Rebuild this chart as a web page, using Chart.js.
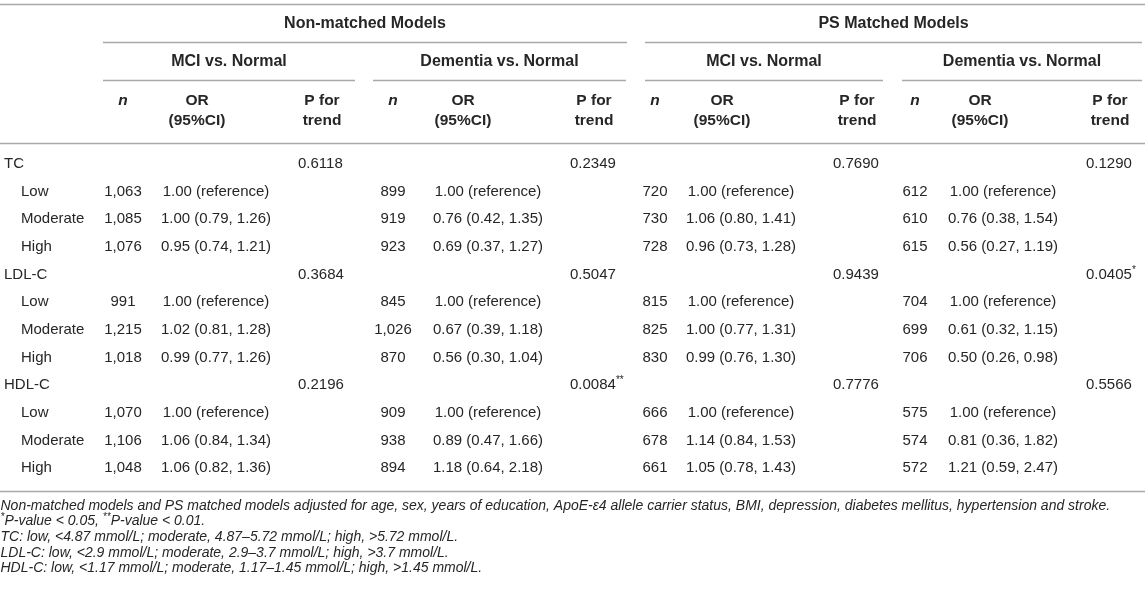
<!DOCTYPE html>
<html>
<head>
<meta charset="utf-8">
<script src="https://cdn.jsdelivr.net/npm/chart.js@4.4.0/dist/chart.umd.min.js"></script>
<style>
html,body{margin:0;padding:0;background:#ffffff;}
#wrap{width:1145px;height:599px;position:relative;}
</style>
</head>
<body>
<div id="wrap"><canvas id="c"></canvas></div>
<script>
// ---------- DATA ----------
const groups = ['Non-matched Models', 'PS Matched Models'];
const comparisons = ['MCI vs. Normal', 'Dementia vs. Normal', 'MCI vs. Normal', 'Dementia vs. Normal'];
const colHeadN = 'n';
const colHeadOR = ['OR', '(95%CI)'];
const colHeadP = ['P for', 'trend'];
const lipids = ['TC', 'LDL-C', 'HDL-C'];
const levels = ['Low', 'Moderate', 'High'];

// values listed lipid by lipid (TC Low/Moderate/High, LDL-C ..., HDL-C ...)
const nmMciN  = ['1,063', '1,085', '1,076', '991', '1,215', '1,018', '1,070', '1,106', '1,048'];
const nmMciOR = ['1.00 (reference)', '1.00 (0.79, 1.26)', '0.95 (0.74, 1.21)',
                 '1.00 (reference)', '1.02 (0.81, 1.28)', '0.99 (0.77, 1.26)',
                 '1.00 (reference)', '1.06 (0.84, 1.34)', '1.06 (0.82, 1.36)'];
const nmMciP  = ['0.6118', '0.3684', '0.2196'];

const nmDemN  = ['899', '919', '923', '845', '1,026', '870', '909', '938', '894'];
const nmDemOR = ['1.00 (reference)', '0.76 (0.42, 1.35)', '0.69 (0.37, 1.27)',
                 '1.00 (reference)', '0.67 (0.39, 1.18)', '0.56 (0.30, 1.04)',
                 '1.00 (reference)', '0.89 (0.47, 1.66)', '1.18 (0.64, 2.18)'];
const nmDemP  = ['0.2349', '0.5047', '0.0084**'];

const psMciN  = ['720', '730', '728', '815', '825', '830', '666', '678', '661'];
const psMciOR = ['1.00 (reference)', '1.06 (0.80, 1.41)', '0.96 (0.73, 1.28)',
                 '1.00 (reference)', '1.00 (0.77, 1.31)', '0.99 (0.76, 1.30)',
                 '1.00 (reference)', '1.14 (0.84, 1.53)', '1.05 (0.78, 1.43)'];
const psMciP  = ['0.7690', '0.9439', '0.7776'];

const psDemN  = ['612', '610', '615', '704', '699', '706', '575', '574', '572'];
const psDemOR = ['1.00 (reference)', '0.76 (0.38, 1.54)', '0.56 (0.27, 1.19)',
                 '1.00 (reference)', '0.61 (0.32, 1.15)', '0.50 (0.26, 0.98)',
                 '1.00 (reference)', '0.81 (0.36, 1.82)', '1.21 (0.59, 2.47)'];
const psDemP  = ['0.1290', '0.0405*', '0.5566'];

const footnotes = [
  'Non-matched models and PS matched models adjusted for age, sex, years of education, ApoE-\u03b54 allele carrier status, BMI, depression, diabetes mellitus, hypertension and stroke.',
  '*P-value < 0.05, **P-value < 0.01.',
  'TC: low, <4.87 mmol/L; moderate, 4.87\u20135.72 mmol/L; high, >5.72 mmol/L.',
  'LDL-C: low, <2.9 mmol/L; moderate, 2.9\u20133.7 mmol/L; high, >3.7 mmol/L.',
  'HDL-C: low, <1.17 mmol/L; moderate, 1.17\u20131.45 mmol/L; high, >1.45 mmol/L.'
];

// ---------- LAYOUT / STYLE ----------
const W = 1145, H = 599;
const FONT = "'Liberation Sans', Arial, Helvetica, sans-serif";
const TEXT = '#262626';
const RULE = '#a9a9a9';
const L = {
  topLine: 4,
  groupY: 24, groupLine: 42, groupSpans: [[103, 627], [645, 1142]],
  compY: 62, compLine: 80, compSpans: [[103, 355], [373, 626], [645, 883], [902, 1142]],
  head1: 101, head2: 121, headLine: 143,
  bottomLine: 491,
  footY: 506, footStep: 15.6,
  labelX: 4, indentX: 21,
  cols: [
    {n: 123, or: 216, orHead: 197, p: 322},
    {n: 393, or: 488, orHead: 463, p: 594},
    {n: 655, or: 741, orHead: 722, p: 857},
    {n: 915, or: 1003, orHead: 980, p: 1110}
  ],
  pOffset: -24
};

// ---------- BUILD DATASETS ----------
const panels = [
  {n: nmMciN, or: nmMciOR, p: nmMciP},
  {n: nmDemN, or: nmDemOR, p: nmDemP},
  {n: psMciN, or: psMciOR, p: psMciP},
  {n: psDemN, or: psDemOR, p: psDemP}
];
const datasets = [];
function addSet(points, align) {
  datasets.push({
    data: points.map(p => ({x: p.x, y: p.y})),
    texts: points.map(p => p.t),
    align: align,
    pointRadius: 0, pointHoverRadius: 0, showLine: false
  });
}
// row labels
const labelPts = [];
lipids.forEach((lp, li) => {
  labelPts.push({x: L.labelX, y: li * 4, t: lp});
  levels.forEach((lv, vi) => labelPts.push({x: L.indentX, y: li * 4 + 1 + vi, t: lv}));
});
addSet(labelPts, 'left');
panels.forEach((pan, k) => {
  const c = L.cols[k];
  const nPts = [], orPts = [], pPts = [];
  lipids.forEach((lp, li) => {
    pPts.push({x: c.p + L.pOffset, y: li * 4, t: pan.p[li]});
    levels.forEach((lv, vi) => {
      nPts.push({x: c.n, y: li * 4 + 1 + vi, t: pan.n[li * 3 + vi]});
      orPts.push({x: c.or, y: li * 4 + 1 + vi, t: pan.or[li * 3 + vi]});
    });
  });
  addSet(nPts, 'center');
  addSet(orPts, 'center');
  addSet(pPts, 'left');
});

// ---------- DRAW HELPERS ----------
function drawWithSup(ctx, text, x, y, align, size, style) {
  const parts = [];
  const re = /(\*+)|([^*]+)/g;
  let m;
  while ((m = re.exec(text)) !== null) {
    if (m[1]) parts.push({t: m[1], sup: true});
    else parts.push({t: m[2], sup: false});
  }
  const supSize = Math.round(size * 0.68);
  const fN = style + ' ' + size + 'px ' + FONT;
  const fS = style + ' ' + supSize + 'px ' + FONT;
  let total = 0;
  parts.forEach(p => { ctx.font = p.sup ? fS : fN; p.w = ctx.measureText(p.t).width; total += p.w; });
  let cx = align === 'center' ? x - total / 2 : (align === 'right' ? x - total : x);
  ctx.textAlign = 'left';
  parts.forEach(p => {
    ctx.font = p.sup ? fS : fN;
    ctx.fillText(p.t, cx, p.sup ? y - size * 0.3 : y);
    cx += p.w;
  });
}
function hline(ctx, x1, x2, y) {
  ctx.beginPath();
  ctx.moveTo(x1, y + 0.5);
  ctx.lineTo(x2, y + 0.5);
  ctx.stroke();
}

const tablePlugin = {
  id: 'tableText',
  afterDatasetsDraw(chart) {
    const ctx = chart.ctx;
    ctx.save();
    ctx.fillStyle = TEXT;
    ctx.textBaseline = 'middle';
    // rules
    ctx.strokeStyle = RULE;
    ctx.lineWidth = 1.3;
    hline(ctx, 0, W, L.topLine);
    L.groupSpans.forEach(s => hline(ctx, s[0], s[1], L.groupLine));
    L.compSpans.forEach(s => hline(ctx, s[0], s[1], L.compLine));
    hline(ctx, 0, W, L.headLine);
    hline(ctx, 0, W, L.bottomLine);
    // headers
    ctx.textAlign = 'center';
    ctx.font = 'bold 16px ' + FONT;
    groups.forEach((g, i) => ctx.fillText(g, (L.groupSpans[i][0] + L.groupSpans[i][1]) / 2, L.groupY));
    comparisons.forEach((c, i) => ctx.fillText(c, (L.compSpans[i][0] + L.compSpans[i][1]) / 2, L.compY));
    L.cols.forEach(c => {
      ctx.font = 'italic bold 15.5px ' + FONT;
      ctx.fillText(colHeadN, c.n, L.head1);
      ctx.font = 'bold 15.5px ' + FONT;
      ctx.fillText(colHeadOR[0], c.orHead, L.head1);
      ctx.fillText(colHeadOR[1], c.orHead, L.head2);
      ctx.fillText(colHeadP[0], c.p, L.head1);
      ctx.fillText(colHeadP[1], c.p, L.head2);
    });
    // cells from dataset elements
    chart.data.datasets.forEach((ds, i) => {
      const meta = chart.getDatasetMeta(i);
      meta.data.forEach((el, j) => {
        const t = ds.texts[j];
        if (t == null) return;
        drawWithSup(ctx, t, el.x, el.y, ds.align, 15, 'normal');
      });
    });
    // footnotes
    footnotes.forEach((f, i) => {
      drawWithSup(ctx, f, 0.5, L.footY + i * L.footStep, 'left', 14, 'italic');
    });
    ctx.restore();
  }
};

const rowCount = lipids.length * (levels.length + 1);
new Chart(document.getElementById('c'), {
  type: 'scatter',
  data: {datasets: datasets},
  options: {
    responsive: true,
    maintainAspectRatio: false,
    animation: false,
    events: [],
    layout: {padding: {left: 0, right: 0, top: 150, bottom: 117}},
    plugins: {legend: {display: false}, tooltip: {enabled: false}},
    scales: {
      x: {type: 'linear', min: 0, max: W, display: false},
      y: {type: 'linear', min: -0.5, max: rowCount - 0.5, reverse: true, display: false}
    }
  },
  plugins: [tablePlugin]
});
</script>
</body>
</html>
